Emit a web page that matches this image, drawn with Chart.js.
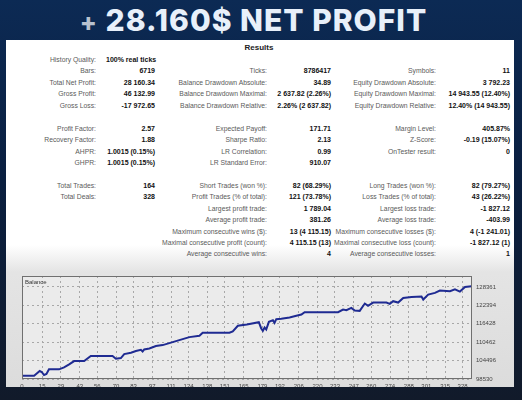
<!DOCTYPE html>
<html>
<head>
<meta charset="utf-8">
<script src="https://cdn.jsdelivr.net/npm/chart.js@4.4.1/dist/chart.umd.min.js"></script>
<style>
html, body { margin: 0; padding: 0; }
body {
    width: 522px; height: 400px; overflow: hidden; position: relative;
    background: linear-gradient(180deg, #0c2a54 0%, #0a1f40 45%, #111a2a 100%);
    font-family: "Liberation Sans", Arial, sans-serif;
}
#title {
    position: absolute; left: 0; width: 507px; top: 2px; text-align: center;
    font-family: Inter, "Liberation Sans", sans-serif; font-weight: 800;
    font-size: 30px; letter-spacing: 1px; color: #e8f0fa; white-space: nowrap;
}
#title .plus { color: #b8c2cf; font-size: 25px; }
#panel {
    position: absolute; left: 6px; top: 40px; width: 508px; height: 347px; overflow: hidden;
    background: linear-gradient(180deg, #fff 0px, #fff 205px, #e4e4e4 232px, #dcdcdc 347px);
}
#results {
    position: absolute; left: 0; width: 506px; top: 3px; text-align: center;
    font-weight: bold; font-size: 8px; color: #222;
}
.lab { position: absolute; width: 200px; text-align: right; font-size: 6.8px; color: #5a5a5a; line-height: 8px; white-space: nowrap; }
.val { position: absolute; width: 120px; text-align: right; font-size: 7px; font-weight: bold; color: #111; line-height: 8px; white-space: nowrap; }
#chartBox { position: absolute; left: 4px; top: 226px; width: 510px; height: 130px; }
</style>
</head>
<body>
<div id="title"><span class="plus">+</span> 28.160$ NET PROFIT</div>
<div id="panel">
    <div id="results">Results</div>
    <div id="stats"></div>
    <div id="chartBox"><canvas id="balance-chart" width="510" height="130"></canvas></div>
</div>
<script>
// balance curve (deal number, balance)
const tradeNo = [0, 9, 13.2, 14.7, 16.4, 18.2, 20.1, 27.6, 31.3, 35.1,
    38.8, 46.3, 51.2, 67.4, 69.9, 73.6, 76.1, 81.1, 84.8, 88.5,
    89.8, 91.0, 94.8, 99.7, 104.7, 109.7, 117.1, 124.6, 132.1, 134.5,
    154.4, 156.9, 160.7, 167.4, 176.3, 178.1, 179.3, 180.6, 181.8, 183.8,
    186.8, 188.0, 189.3, 193.0, 199.2, 204.2, 208, 210.4, 235.3, 239.0,
    241.5, 245.2, 247.7, 251.4, 255.2, 257.6, 261.4, 271.3, 273.8, 276.3,
    280.0, 283.8, 290.0, 297.4, 298.7, 302.4, 307.4, 311.1, 318.6, 322.3,
    326.0, 329.8, 334.7];
const balance = [99607, 99607, 101115, 100792, 99822, 100146, 101653, 101653, 102300, 103269,
    104346, 104346, 105961, 105961, 105100, 105315, 106608, 107038, 107577, 108008,
    107469, 108115, 108438, 109192, 109515, 110162, 111131, 112100, 112531, 113500,
    113500, 113931, 115762, 116193, 116947, 114900, 114147, 115224, 114577, 117054,
    117593, 116731, 117916, 118024, 118455, 118993, 119424, 120178, 120178, 121039,
    120825, 121578, 120716, 120609, 122979, 122224, 123301, 123301, 122870, 123732,
    123301, 124809, 125132, 125240, 124270, 125886, 126424, 127178, 126963, 127609,
    126855, 128363, 128578];
const xTicks = [0, 15, 29, 43, 56, 70, 83, 97, 111, 124, 138, 151, 165, 179, 192, 206, 220, 233, 247, 260, 274, 288, 301, 315, 328];
const yTicks = [98530, 104496, 110462, 116428, 122394, 128361];
const xMax = 335;
const yMax = 131900;

// report rows: [row, column, label, value]
const statRows = [
    [0, 0, 'History Quality:', '100% real ticks'],
    [1, 0, 'Bars:', '6719'], [1, 1, 'Ticks:', '8786417'], [1, 2, 'Symbols:', '11'],
    [2, 0, 'Total Net Profit:', '28 160.34'], [2, 1, 'Balance Drawdown Absolute:', '34.89'], [2, 2, 'Equity Drawdown Absolute:', '3 792.23'],
    [3, 0, 'Gross Profit:', '46 132.99'], [3, 1, 'Balance Drawdown Maximal:', '2 637.82 (2.26%)'], [3, 2, 'Equity Drawdown Maximal:', '14 943.55 (12.40%)'],
    [4, 0, 'Gross Loss:', '-17 972.65'], [4, 1, 'Balance Drawdown Relative:', '2.26% (2 637.82)'], [4, 2, 'Equity Drawdown Relative:', '12.40% (14 943.55)'],
    [6, 0, 'Profit Factor:', '2.57'], [6, 1, 'Expected Payoff:', '171.71'], [6, 2, 'Margin Level:', '405.87%'],
    [7, 0, 'Recovery Factor:', '1.88'], [7, 1, 'Sharpe Ratio:', '2.13'], [7, 2, 'Z-Score:', '-0.19 (15.07%)'],
    [8, 0, 'AHPR:', '1.0015 (0.15%)'], [8, 1, 'LR Correlation:', '0.99'], [8, 2, 'OnTester result:', '0'],
    [9, 0, 'GHPR:', '1.0015 (0.15%)'], [9, 1, 'LR Standard Error:', '910.07'],
    [11, 0, 'Total Trades:', '164'], [11, 1, 'Short Trades (won %):', '82 (68.29%)'], [11, 2, 'Long Trades (won %):', '82 (79.27%)'],
    [12, 0, 'Total Deals:', '328'], [12, 1, 'Profit Trades (% of total):', '121 (73.78%)'], [12, 2, 'Loss Trades (% of total):', '43 (26.22%)'],
    [13, 1, 'Largest profit trade:', '1 789.04'], [13, 2, 'Largest loss trade:', '-1 827.12'],
    [14, 1, 'Average profit trade:', '381.26'], [14, 2, 'Average loss trade:', '-403.99'],
    [15, 1, 'Maximum consecutive wins ($):', '13 (4 115.15)'], [15, 2, 'Maximum consecutive losses ($):', '4 (-1 241.01)'],
    [16, 1, 'Maximal consecutive profit (count):', '4 115.15 (13)'], [16, 2, 'Maximal consecutive loss (count):', '-1 827.12 (1)'],
    [17, 1, 'Average consecutive wins:', '4'], [17, 2, 'Average consecutive losses:', '1']
];

function buildStats() {
    const labelRight = [90, 261, 430];
    const valueRight = [149, 325, 504];
    const box = document.getElementById('stats');
    statRows.forEach(([row, col, label, value]) => {
        const top = 16 + row * 11.44;
        const l = document.createElement('div');
        l.className = 'lab';
        l.style.left = (labelRight[col] - 200) + 'px';
        l.style.top = top + 'px';
        l.innerText = label;
        box.appendChild(l);
        const v = document.createElement('div');
        v.className = 'val';
        v.style.top = top + 'px';
        if (row === 0) {
            v.style.textAlign = 'left';
            v.style.left = '100px';
        } else {
            v.style.left = (valueRight[col] - 120) + 'px';
        }
        v.innerText = value;
        box.appendChild(v);
    });
}

const framePlugin = {
    id: 'frame',
    beforeDraw(chart) {
        const { ctx, chartArea: a } = chart;
        ctx.save();
        ctx.fillStyle = '#ebebeb';
        ctx.fillRect(a.left, a.top, a.right - a.left, a.bottom - a.top);
        ctx.restore();
    },
    afterDraw(chart) {
        const { ctx, chartArea: a } = chart;
        ctx.save();
        ctx.strokeStyle = '#707070';
        ctx.lineWidth = 1;
        ctx.strokeRect(a.left + 0.5, a.top + 0.5, a.right - a.left - 1, a.bottom - a.top - 1);
        ctx.fillStyle = '#333';
        ctx.font = '6px "Liberation Sans"';
        ctx.fillText('Balance', a.left + 3, a.top + 8);
        ctx.restore();
    }
};

function drawChart() {
    const ctx = document.getElementById('balance-chart').getContext('2d');
    window.balanceChart = new Chart(ctx, {
        type: 'line',
        data: {
            datasets: [{
                label: 'Balance',
                data: tradeNo.map((x, i) => ({ x: x, y: balance[i] })),
                borderColor: '#1f2b92',
                borderWidth: 2,
                pointRadius: 0,
                tension: 0,
                fill: false
            }]
        },
        options: {
            responsive: false,
            animation: false,
            layout: { padding: { left: 12, top: 10, right: 0, bottom: 0 } },
            plugins: { legend: { display: false }, tooltip: { enabled: false } },
            scales: {
                x: {
                    type: 'linear',
                    min: 0,
                    max: xMax,
                    afterBuildTicks: (scale) => { scale.ticks = xTicks.map(v => ({ value: v })); },
                    afterFit: (scale) => { scale.height = 17; },
                    grid: { color: '#a8a8a8', drawTicks: false },
                    border: { display: false, dash: [2, 3] },
                    ticks: {
                        autoSkip: false, maxRotation: 0, padding: 4,
                        color: '#444', font: { family: 'Liberation Sans', size: 6 },
                        callback: (v) => String(v)
                    }
                },
                y: {
                    position: 'right',
                    min: yTicks[0],
                    max: yMax,
                    afterBuildTicks: (scale) => { scale.ticks = yTicks.map(v => ({ value: v })); },
                    afterFit: (scale) => { scale.width = 48; },
                    grid: { color: '#a8a8a8', drawTicks: false },
                    border: { display: false, dash: [2, 3] },
                    ticks: {
                        padding: 4,
                        color: '#444', font: { family: 'Liberation Sans', size: 6 },
                        callback: (v) => String(v)
                    }
                }
            }
        },
        plugins: [framePlugin]
    });
}

document.addEventListener('DOMContentLoaded', () => {
    buildStats();
    drawChart();
});
</script>
</body>
</html>
